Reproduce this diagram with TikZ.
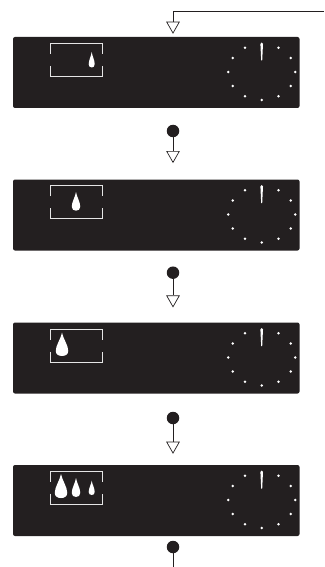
\documentclass[tikz,border=0pt]{standalone}
\usetikzlibrary{shapes.geometric}
\definecolor{panelc}{HTML}{231F20}
\newcommand{\dropat}[4]{\fill[white,shift={(#1,#2)},xscale=#3,yscale=#4] (0,-1) .. controls (.1,-.65) and (.5,-.3) .. (.5,.02) .. controls (.5,.2) and (.3,.3) .. (0,.3) .. controls (-.3,.3) and (-.5,.2) .. (-.5,.02) .. controls (-.5,-.3) and (-.1,-.65) .. (0,-1) -- cycle;}
\tikzset{
  x=1pt,y=-1pt,
  panelbox/.style={fill=panelc,draw=none,rounded corners=2pt},
  joint/.style={circle,fill=panelc,draw=none,minimum size=12.5pt,inner sep=0pt},
  flowtri/.style={isosceles triangle,isosceles triangle stretches,shape border rotate=270,draw=panelc,line width=.7pt,fill=white,minimum width=12.5pt,minimum height=11pt,inner sep=0pt,anchor=apex},
  wire/.style={draw=panelc,line width=.9pt},
  bracketline/.style={draw=white!90!black,line width=.6pt},
  pics/dialface/.style={code={
    \foreach \a in {30,60,...,330}{\fill[white] ({33.5*sin(\a)},{-28*cos(\a)}) circle[radius=1.4];}
    \fill[white] (-1.3,-28) .. controls (-1.2,-29.5) and (-.8,-29.5) .. (0,-29.5) .. controls (.8,-29.5) and (1.3,-29.5) .. (1.3,-28) -- (.5,-11.5) -- (-.5,-11.5) -- cycle;
  }},
  pics/bracketset/.style={code={
    \draw[bracketline] (0,10.7) -- (0,0) -- (52,0) -- (52,10.7);
    \draw[bracketline] (0,22.5) -- (0,33) -- (52,33) -- (52,22.5);
  }},
}
\begin{document}
\begin{tikzpicture}
\useasboundingbox (0,0) rectangle (324,567);
% panels
\foreach \n/\y in {1/37,2/179.5,3/322.5,4/465}{
  \fill[panelbox] (13,\y) rectangle (299.5,\y+71);
}
\pic at (261.7,72) {dialface};
\pic at (261.7,214.5) {dialface};
\pic at (261.7,357.5) {dialface};
\pic at (261.7,500) {dialface};
\pic at (50.3,43.3) {bracketset};
\pic at (50.3,185.7) {bracketset};
\pic at (50.3,329) {bracketset};
\pic at (50.3,471.2) {bracketset};
% drops
\dropat{91.7}{63.9}{6}{11.9}
\dropat{76}{206.4}{8.5}{14.4}
\dropat{62}{350.6}{12.5}{17.9}
\dropat{61}{492.5}{12.5}{18.5}
\dropat{76}{492.6}{8.5}{14.6}
\dropat{91.7}{491.7}{6}{11}
% connectors
\coordinate (start) at (324,11);
\node[flowtri] (t0) at (173,34) {};
\draw[wire] (start) -- (173,11) -- (t0.north);
\node[joint] (j1) at (173,131) {};
\node[flowtri] (t1) at (173,163.3) {};
\draw[wire] (j1) -- (t1.north);
\node[joint] (j2) at (173,272.7) {};
\node[flowtri] (t2) at (173,307.7) {};
\draw[wire] (j2) -- (t2.north);
\node[joint] (j3) at (173,418) {};
\node[flowtri] (t3) at (173,454) {};
\draw[wire] (j3) -- (t3.north);
\node[joint] (j4) at (173,547) {};
\coordinate (endp) at (173,567);
\draw[wire] (j4) -- (endp);
\end{tikzpicture}
\end{document}
